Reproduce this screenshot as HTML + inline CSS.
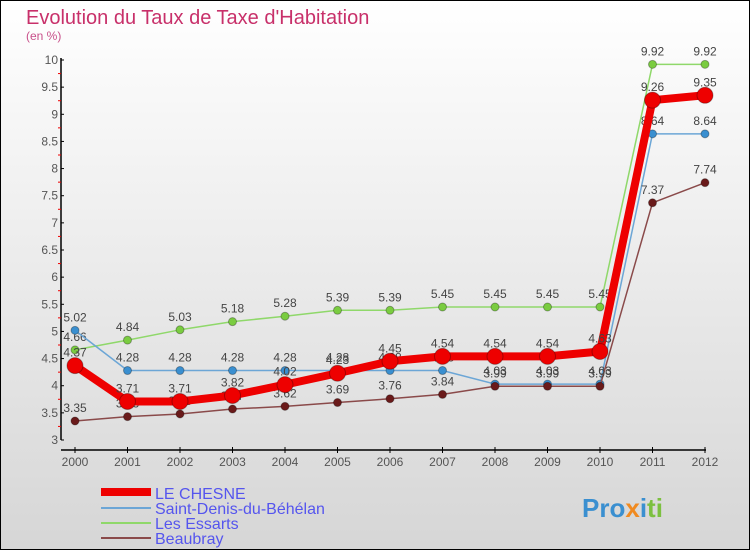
<!DOCTYPE html>
<html><head><meta charset="utf-8"><style>
body{margin:0}
svg{display:block;font-family:"Liberation Sans",sans-serif}
</style></head><body>
<svg id="c" width="750" height="550" xmlns="http://www.w3.org/2000/svg">
<defs><linearGradient id="bg" x1="0" y1="0" x2="0" y2="1"><stop offset="0" stop-color="#ffffff"/><stop offset="1" stop-color="#d6d6d6"/></linearGradient></defs>
<rect x="0.5" y="0.5" width="749" height="549" fill="url(#bg)" stroke="#000"/>
<text x="26" y="24" font-size="20" fill="#c8306a">Evolution du Taux de Taxe d'Habitation</text>
<text x="26" y="40" font-size="12" fill="#c8508a">(en %)</text>
<g id="axes"></g><g id="series"></g>
<g>
<line x1="101" y1="492" x2="151" y2="492" stroke="#e00" stroke-width="8"/>
<text x="155" y="499" font-size="16" fill="#5555ee">LE CHESNE</text>
<line x1="101" y1="508" x2="151" y2="508" stroke="#6ca6d6" stroke-width="2"/>
<text x="155" y="514" font-size="16" fill="#5555ee">Saint-Denis-du-Béhélan</text>
<line x1="101" y1="523" x2="151" y2="523" stroke="#8fd86a" stroke-width="2"/>
<text x="155" y="529" font-size="16" fill="#5555ee">Les Essarts</text>
<line x1="101" y1="538" x2="151" y2="538" stroke="#8a4a4a" stroke-width="2"/>
<text x="155" y="544" font-size="16" fill="#5555ee">Beaubray</text>
</g>
<text x="582" y="517" font-size="26" font-weight="bold"><tspan fill="#3a8fd0">Pro</tspan><tspan fill="#f08a20">x</tspan><tspan fill="#3a8fd0">i</tspan><tspan fill="#7cc040">ti</tspan></text>
</svg>
<script>
const years=[2000,2001,2002,2003,2004,2005,2006,2007,2008,2009,2010,2011,2012];
const yTicks=[3,3.5,4,4.5,5,5.5,6,6.5,7,7.5,8,8.5,9,9.5,10];
const leChesne=[4.37,3.71,3.71,3.82,4.02,4.23,4.45,4.54,4.54,4.54,4.63,9.26,9.35];
const saintDenis=[5.02,4.28,4.28,4.28,4.28,4.28,4.28,4.28,4.03,4.03,4.03,8.64,8.64];
const lesEssarts=[4.66,4.84,5.03,5.18,5.28,5.39,5.39,5.45,5.45,5.45,5.45,9.92,9.92];
const beaubray=[3.35,3.43,3.48,3.57,3.62,3.69,3.76,3.84,3.99,3.99,3.99,7.37,7.74];
const NS="http://www.w3.org/2000/svg";
const X=i=>75+i*52.5, Y=v=>440-(v-3)*(380/7);
function mk(t,a,p){const e=document.createElementNS(NS,t);for(const k in a)e.setAttribute(k,a[k]);p.appendChild(e);return e;}
const ax=document.getElementById('axes');
const yl=mk('line',{x1:61,y1:58,x2:61,y2:440,stroke:'#000','stroke-width':1.5},ax);


const xl=mk('line',{x1:61,y1:450,x2:706,y2:450,stroke:'#000','stroke-width':1.5},ax);


yTicks.forEach(v=>{
 mk('line',{x1:61,y1:Y(v),x2:64,y2:Y(v),stroke:'#000'},ax);
 const t=mk('text',{x:58,y:Y(v)+4,'font-size':12,fill:'#555','text-anchor':'end'},ax);t.textContent=v;
 
 
 if(v<10)mk('line',{x1:58,y1:Y(v+0.25),x2:61,y2:Y(v+0.25),stroke:'#e00'},ax);
});
years.forEach((y,i)=>{
 mk('line',{x1:X(i),y1:447,x2:X(i),y2:453,stroke:'#000'},ax);
 const t=mk('text',{x:X(i),y:466,'font-size':12,fill:'#555','text-anchor':'middle'},ax);t.textContent=y;
 
 
});
const sg=document.getElementById('series');
function series(d,color,w,r,name,dot){
 const g=mk('g',{},sg);
 
 
 mk('polyline',{points:d.map((v,i)=>X(i)+','+Y(v)).join(' '),fill:'none',stroke:color,'stroke-width':w,'stroke-linejoin':'round'},g);
 d.forEach((v,i)=>{
  const c=mk('circle',{cx:X(i),cy:Y(v),r:r,fill:dot,stroke:'rgba(0,0,0,0.3)'},g);
  
  
  const t=mk('text',{x:X(i),y:Y(v)-9,'font-size':12,fill:'#444','text-anchor':'middle'},g);t.textContent=v;
  
  
 });
}
series(lesEssarts,'#8fd86a',1.5,4,'les-essarts','#7acc40');
series(saintDenis,'#6ca6d6',1.5,4,'saint-denis','#3a8fd0');
series(beaubray,'#8a4a4a',1.5,4,'beaubray','#6a1a1a');
series(leChesne,'#e00',8,8,'le-chesne','#e00');
</script>
</body></html>
